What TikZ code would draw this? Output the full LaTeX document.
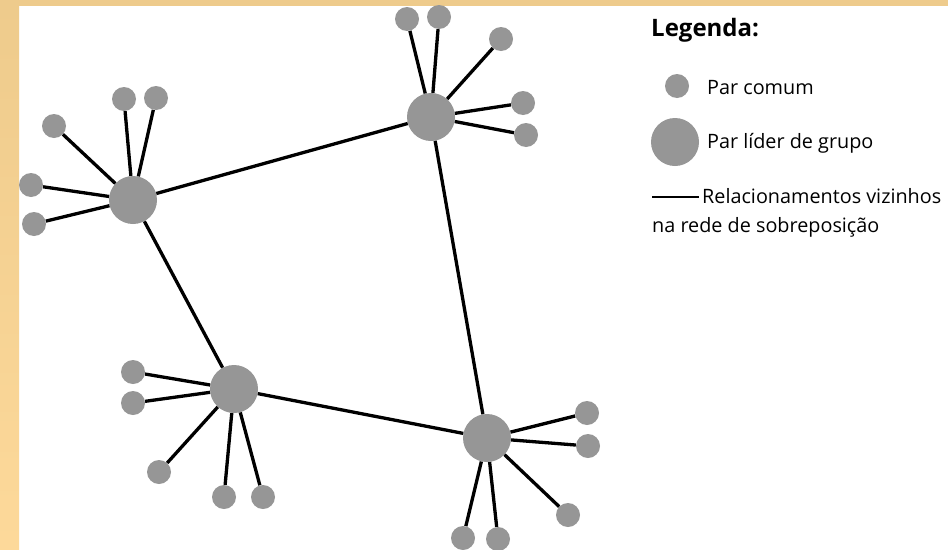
\documentclass[tikz,border=0pt]{standalone}
\usepackage{fontspec}
\setmainfont{Open Sans}
\definecolor{peergray}{RGB}{150,150,150}
\definecolor{bandtop}{RGB}{238,203,140}
\definecolor{bandbot}{RGB}{253,217,154}
\begin{document}
\begin{tikzpicture}[x=1pt,y=-1pt,
  peer/.style={circle,fill=peergray,inner sep=0pt,minimum size=24pt},
  leader/.style={circle,fill=peergray,inner sep=0pt,minimum size=48pt},
  link/.style={line width=3.3pt,black},
  lbl/.style={anchor=base west,inner sep=0pt,font=\fontsize{19.8}{22}\selectfont}]
\useasboundingbox (0,0) rectangle (948,549);
\fill[white] (0,0) rectangle (948,549);
\fill[bandtop] (0,0) rectangle (948,6);
\shade[top color=bandtop,bottom color=bandbot] (0,0) rectangle (19,549);

% leaders
\node[leader] (h1) at (133,200) {};
\node[leader] (h2) at (431,117) {};
\node[leader] (h3) at (234,389) {};
\node[leader] (h4) at (487,438) {};

% peers of h1
\node[peer] (a1) at (124,99) {};
\node[peer] (a2) at (156,98) {};
\node[peer] (a3) at (54,126) {};
\node[peer] (a4) at (31,185) {};
\node[peer] (a5) at (34,224) {};
% peers of h2
\node[peer] (b1) at (407,19) {};
\node[peer] (b2) at (439,17) {};
\node[peer] (b3) at (501,39) {};
\node[peer] (b4) at (523,103) {};
\node[peer] (b5) at (526,135) {};
% peers of h3
\node[peer] (c1) at (133,372) {};
\node[peer] (c2) at (133,403) {};
\node[peer] (c3) at (159,472) {};
\node[peer] (c4) at (224,497) {};
\node[peer] (c5) at (263,497) {};
% peers of h4
\node[peer] (d1) at (587,413) {};
\node[peer] (d2) at (588,446) {};
\node[peer] (d3) at (568,515) {};
\node[peer] (d4) at (463,538) {};
\node[peer] (d5) at (498,539) {};

\foreach \p in {a1,a2,a3,a4,a5} \draw[link] (h1) -- (\p);
\foreach \p in {b1,b2,b3,b4,b5} \draw[link] (h2) -- (\p);
\foreach \p in {c1,c2,c3,c4,c5} \draw[link] (h3) -- (\p);
\foreach \p in {d1,d2,d3,d4,d5} \draw[link] (h4) -- (\p);
\draw[link] (h1) -- (h2);
\draw[link] (h1) -- (h3);
\draw[link] (h2) -- (h4);
\draw[link] (h3) -- (h4);

% legend
\node[lbl,font=\fontsize{24}{26}\selectfont\bfseries] (lt) at (651,36) {Legenda:};
\node[peer] (lp) at (677,86) {};
\node[lbl] (lpt) at (707,94) {Par comum};
\node[leader] (ll) at (675,142) {};
\node[lbl] (llt) at (707,148) {Par líder de grupo};
\coordinate (le1) at (652,197);
\coordinate (le2) at (699,197);
\draw[line width=2.6pt] (le1) -- (le2);
\node[lbl] (lr1) at (702,203) {Relacionamentos vizinhos};
\node[lbl] (lr2) at (652,232) {na rede de sobreposição};
\end{tikzpicture}
\end{document}
